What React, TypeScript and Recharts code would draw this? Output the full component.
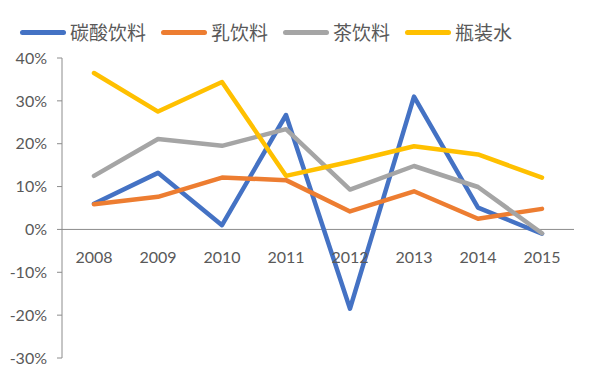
import { LineChart, Line, XAxis, YAxis, ReferenceLine } from "recharts";

const years = ["2008", "2009", "2010", "2011", "2012", "2013", "2014", "2015"];
const carbonated = [6.0, 13.2, 1.0, 26.7, -18.5, 31.0, 5.1, -1.0];
const dairy = [5.9, 7.6, 12.1, 11.5, 4.2, 8.9, 2.5, 4.8];
const tea = [12.5, 21.1, 19.5, 23.4, 9.3, 14.8, 9.9, -0.9];
const water = [36.5, 27.5, 34.4, 12.5, 15.8, 19.4, 17.5, 12.1];
const yTicks = [-30, -20, -10, 0, 10, 20, 30, 40];

const series = [
  { key: "carbonated", name: "碳酸饮料", color: "#4472C4" },
  { key: "dairy", name: "乳饮料", color: "#ED7D31" },
  { key: "tea", name: "茶饮料", color: "#A5A5A5" },
  { key: "water", name: "瓶装水", color: "#FFC000" },
];

const data = years.map((y, i) => ({
  year: y,
  carbonated: carbonated[i],
  dairy: dairy[i],
  tea: tea[i],
  water: water[i],
}));

const W = 591;
const H = 376;
const TOP = 58;
const BOTTOM_AXIS = 18;
const Y_MIN = -30;
const Y_MAX = 40;
const plotH = H - TOP - BOTTOM_AXIS;
const zeroOffset = ((0 - Y_MIN) / (Y_MAX - Y_MIN)) * plotH; // px from plot bottom up to the zero line

const tickFont = "Lato, 'Open Sans', sans-serif";

function YearTick({ x, y, payload }: any) {
  return (
    <text
      x={x}
      y={y - zeroOffset + 26}
      textAnchor="middle"
      fontSize={16}
      fontFamily={tickFont}
      fill="#595959"
    >
      {payload.value}
    </text>
  );
}

// legend sits above the plot, outside recharts so it doesn't shift the plot area
function LegendRow() {
  return (
    <div
      style={{
        position: "absolute",
        top: 19,
        left: 20,
        display: "flex",
        alignItems: "center",
        fontFamily: "'Noto Sans CJK SC', sans-serif",
        fontSize: 19,
        lineHeight: "26px",
        color: "#595959",
        whiteSpace: "nowrap",
      }}
    >
      {series.map((s) => (
        <div key={s.key} style={{ display: "flex", alignItems: "center", marginRight: 15 }}>
          <span
            style={{
              display: "inline-block",
              width: 46,
              height: 5,
              borderRadius: 3,
              background: s.color,
              marginRight: 4,
            }}
          />
          <span>{s.name}</span>
        </div>
      ))}
    </div>
  );
}

export default function App() {
  return (
    <div style={{ position: "absolute", left: 0, top: 0, width: W, height: H, background: "#fff" }}>
      <LineChart
        width={W}
        height={H}
        data={data}
        margin={{ top: TOP, right: 17, bottom: 0, left: 0 }}
      >
        <XAxis
          dataKey="year"
          height={BOTTOM_AXIS}
          axisLine={false}
          tickLine={false}
          tick={<YearTick />}
          interval={0}
          padding={{ left: 32, right: 32 }}
        />
        <YAxis
          domain={[Y_MIN, Y_MAX]}
          ticks={yTicks}
          width={62}
          tickFormatter={(v: number) => `${v}%`}
          tick={{ fontSize: 16, fontFamily: tickFont, fill: "#595959" }}
          stroke="#8c8c8c"
          tickSize={5}
          tickMargin={10}
          interval={0}
        />
        <ReferenceLine y={0} stroke="#8c8c8c" strokeWidth={1} />
        {series.map((s) => (
          <Line
            key={s.key}
            type="linear"
            dataKey={s.key}
            name={s.name}
            stroke={s.color}
            strokeWidth={4.5}
            dot={false}
            strokeLinejoin="round"
            strokeLinecap="round"
            isAnimationActive={false}
          />
        ))}
      </LineChart>
      <LegendRow />
    </div>
  );
}
